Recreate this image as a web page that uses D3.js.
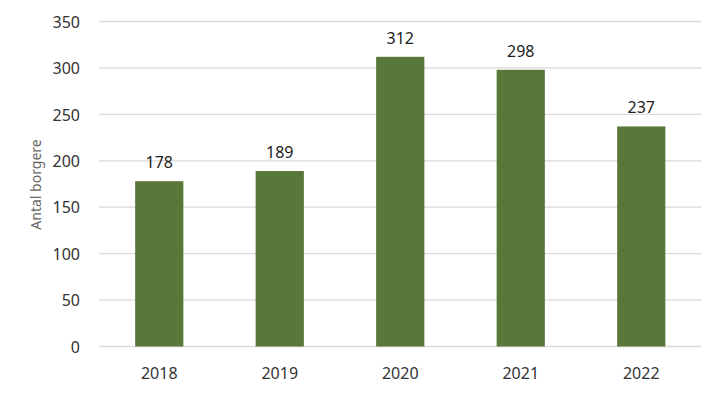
<!DOCTYPE html>
<html><head><meta charset="utf-8">
<script src="https://cdn.jsdelivr.net/npm/d3@7"></script>
<style>body{margin:0;background:#fff}svg{display:block}</style>
</head><body>
<svg id="c" width="721" height="397"></svg>
<script>
const categories = ["2018","2019","2020","2021","2022"];
const values = [178,189,312,298,237];
const yTicks = [0,50,100,150,200,250,300,350];
const yTitle = "Antal borgere";

(function(){
const svg = d3.select("#c");
const mLeft = 99, mRight = 701.5, mTop = 21.5, mBottom = 346.5;
const x = d3.scaleBand().domain(categories).range([mLeft,mRight]).paddingInner(0.6).paddingOuter(0.3);
const y = d3.scaleLinear().domain([0,350]).range([mBottom,mTop]);
const font = "'Noto Sans', sans-serif";

svg.append("g").selectAll("line").data(yTicks).join("line")
  .attr("x1",mLeft).attr("x2",mRight)
  .attr("y1",d=>y(d)).attr("y2",d=>y(d))
  .attr("stroke","#d9d9d9").attr("stroke-width",1.3);

const yAxis = d3.axisLeft(y).tickValues(yTicks).tickSize(0).tickPadding(0);
const ga = svg.append("g").attr("transform",`translate(80,0)`).call(yAxis);
ga.select(".domain").remove();
ga.selectAll("text").attr("font-family",font).attr("font-size",16).attr("fill","#333").attr("dy","0.36em");

svg.append("g").selectAll("rect").data(values).join("rect")
  .attr("x",(d,i)=>x(categories[i]))
  .attr("width",x.bandwidth())
  .attr("y",d=>y(d))
  .attr("height",d=>y(0)-y(d))
  .attr("fill","#5a773a");

svg.append("g").selectAll("text").data(values).join("text")
  .attr("x",(d,i)=>x(categories[i])+x.bandwidth()/2)
  .attr("y",d=>y(d)-13)
  .attr("text-anchor","middle")
  .attr("font-family",font).attr("font-size",16).attr("fill","#222")
  .text(d=>d);

const xAxis = d3.axisBottom(x).tickSize(0).tickPadding(0);
const gx = svg.append("g").attr("transform",`translate(0,${mBottom})`).call(xAxis);
gx.select(".domain").remove();
gx.selectAll("text").attr("font-family",font).attr("font-size",16).attr("fill","#333").attr("dy",0).attr("y",32.5);

svg.append("text").attr("transform","translate(41,184.5) rotate(-90)")
  .attr("text-anchor","middle").attr("font-family",font).attr("font-size",14)
  .attr("fill","#666").text(yTitle);
})();
</script>
</body></html>
